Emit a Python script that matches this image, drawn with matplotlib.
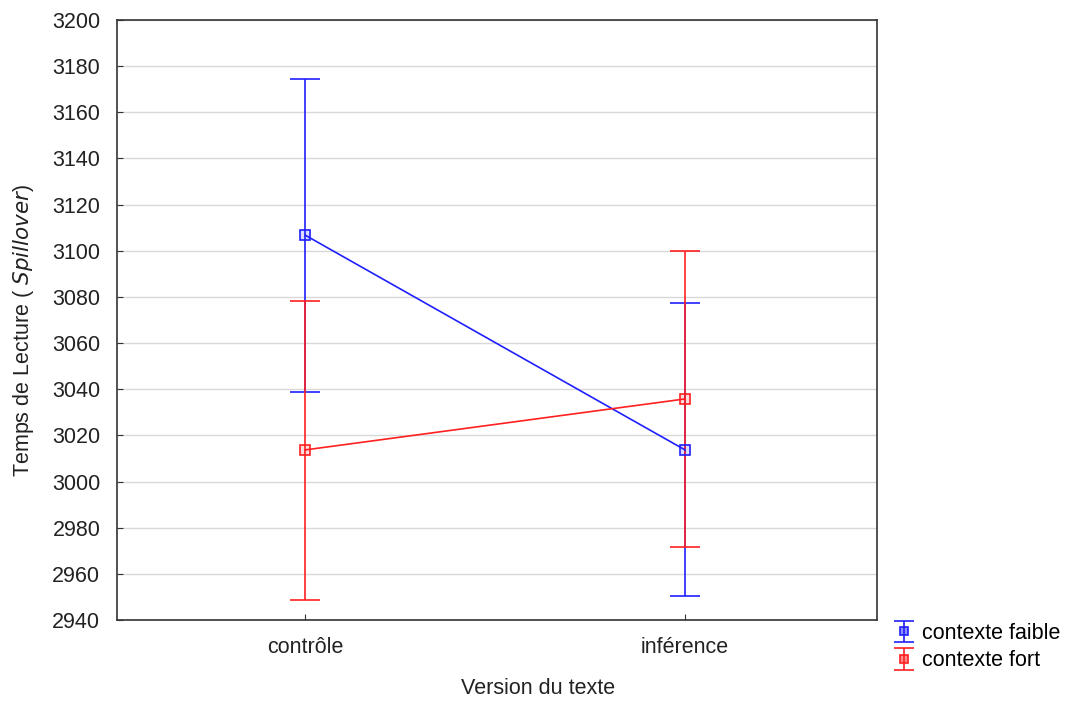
import matplotlib
matplotlib.use("Agg")
import matplotlib.pyplot as plt
import numpy as np

plt.rcParams['font.family'] = ['Liberation Sans', 'DejaVu Sans']

versions = ["contrôle", "inférence"]
# contexte faible (blue)
faible_mean = [3106.8, 3013.7]
faible_low = [3038.8, 2950.4]
faible_high = [3174.4, 3077.4]
# contexte fort (red)
fort_mean = [3013.7, 3035.8]
fort_low = [2948.7, 2971.6]
fort_high = [3078.2, 3099.9]

fig = plt.figure(figsize=(10.76, 7.04), dpi=100)
ax = fig.add_axes([0.1087, 0.1193, 0.7063, 0.8523])

x = np.arange(len(versions))

series = [
    ("contexte faible", faible_mean, faible_low, faible_high, "#2020ff"),
    ("contexte fort", fort_mean, fort_low, fort_high, "#ff2020"),
]
handles = []
for label, mean, low, high, col in series:
    mean = np.array(mean)
    yerr = [mean - np.array(low), np.array(high) - mean]
    style = dict(color=col, elinewidth=1.2, capsize=11, capthick=1.2,
                 marker='s', markersize=7,
                 markerfacecolor=matplotlib.colors.to_rgba(col, 0.15),
                 markeredgecolor=col, markeredgewidth=1.2)
    ax.errorbar(x, mean, yerr=yerr, lw=1.2, zorder=3, **style)
    # legend proxy: error bar without the connecting line
    h = ax.errorbar([np.nan], [np.nan], yerr=[1], ls='none', label=label,
                    **{**style, 'capsize': 7, 'markersize': 6,
                       'markerfacecolor': matplotlib.colors.to_rgba(col, 0.5)})
    handles.append(h)

ax.set_xlim(-0.495, 1.505)
ax.set_ylim(2940, 3200)
ax.set_yticks(np.arange(2940, 3201, 20))
ax.set_xticks(x)
ax.set_xticklabels(versions)
ax.yaxis.grid(True, color="#d8d8d8", lw=1)
ax.set_axisbelow(True)
ax.tick_params(direction='in', length=4, labelsize=15.5, color='#333333',
               labelcolor='#222222')
ax.tick_params(axis='y', pad=12)
ax.tick_params(axis='x', pad=12)
for s in ax.spines.values():
    s.set_color('#333333')
    s.set_linewidth(1.2)

ax.set_xlabel("Version du texte", fontsize=15.5, color='#222222')
ax.set_ylabel("Temps de Lecture ( $\\it{Spillover}$)", fontsize=15.5,
              color='#222222')
ax.xaxis.set_label_coords(0.554, -0.097)
ax.yaxis.set_label_coords(-0.106, 0.483)

leg = ax.legend(handles=handles, loc='lower left', bbox_to_anchor=(1.012, -0.1),
                frameon=False, fontsize=15.5, handlelength=0.9,
                handletextpad=0.35, borderaxespad=0, labelspacing=0.3)

fig.savefig("out.png", dpi=100)
